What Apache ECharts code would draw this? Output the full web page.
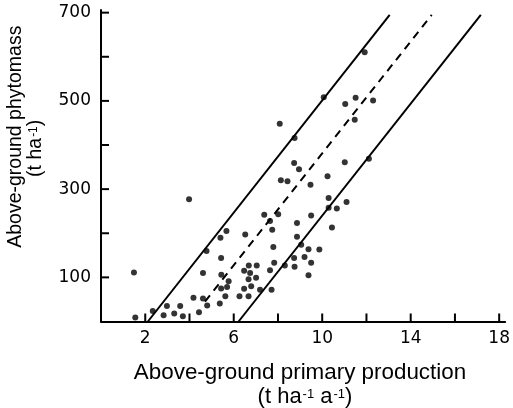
<!DOCTYPE html>
<html>
<head>
<meta charset="utf-8">
<script src="https://cdn.jsdelivr.net/npm/echarts@6/dist/echarts.min.js"></script>
<style>html,body{margin:0;padding:0;background:#fff}#c{width:513px;height:408px}</style>
</head>
<body>
<div id="c"></div>
<script>
// Above-ground primary production (t ha-1 a-1)
const productionX = [1.49,1.55,2.34,2.83,2.98,3.31,3.58,3.70,3.98,4.18,4.43,4.61,4.80,4.61,4.77,5.37,5.43,5.40,5.67,5.44,5.62,5.43,5.70,5.77,6.26,6.47,6.67,6.47,6.52,6.68,6.74,6.67,7.01,7.04,6.79,7.19,7.38,7.64,7.74,7.79,7.83,7.64,7.71,8.01,8.08,8.13,8.43,8.31,8.73,8.75,8.75,8.73,8.95,8.86,8.86,9.05,9.20,9.38,9.50,9.38,9.47,9.50,9.87,10.07,10.24,10.29,10.29,10.66,10.44,11.04,11.02,11.10,11.51,11.47,11.92,12.30,12.11];
// Above-ground phytomass (t ha-1)
const phytomassY = [111,9,24,14,35,18,35,12,277,54,21,52,36,110,160,41,144,190,205,106,57,75,78,91,57,74,57,115,197,127,110,96,99,127,80,72,242,228,208,169,133,116,72,243,448,320,318,127,144,124,416,359,345,223,192,174,146,164,133,105,310,240,163,508,329,280,258,256,213,493,361,271,507,457,610,501,369];

// Envelope lines and central (dashed) line: [x0, x1], [y0, y1]
const upperLineX = [2.12, 13.05];
const upperLineY = [0, 695];
const meanLineX = [4.70, 14.95];
const meanLineY = [45, 695];
const lowerLineX = [6.22, 17.17];
const lowerLineY = [0, 695];

const xTickValues = [2,4,6,8,10,12,14,16,18];
const xLabelValues = [2,6,10,14,18];
const yTickValues = [100,200,300,400,500,600,700];
const yLabelValues = [100,300,500,700];

const points = productionX.map((x, i) => [x, phytomassY[i]]);
const pair = (xs, ys) => xs.map((x, i) => [x, ys[i]]);

const chart = echarts.init(document.getElementById('c'), null, {renderer: 'canvas'});
const tickFont = 'DejaVu Sans';
const titleFont = '"Liberation Sans", Arial, sans-serif';
const TICK_LEN = 8;
const TICK_W = 2;

chart.setOption({
  animation: false,
  backgroundColor: '#fff',
  grid: {left: 101, right: 6, top: 10, bottom: 86.5},
  xAxis: {
    type: 'value', min: 0, max: 18.27,
    splitLine: {show: false},
    axisLine: {show: true, onZero: false, lineStyle: {color: '#000', width: 2}},
    axisTick: {show: false},
    axisLabel: {customValues: xLabelValues, color: '#000', fontFamily: tickFont, fontSize: 17, margin: 9}
  },
  yAxis: {
    type: 'value', min: 0, max: 706,
    splitLine: {show: false},
    axisLine: {show: true, onZero: false, lineStyle: {color: '#000', width: 2}},
    axisTick: {show: false},
    axisLabel: {customValues: yLabelValues, color: '#000', fontFamily: tickFont, fontSize: 17, margin: 10}
  },
  series: [
    {type: 'line', data: pair(upperLineX, upperLineY), symbol: 'none', silent: true,
     lineStyle: {color: '#000', width: 2}},
    {type: 'line', data: pair(meanLineX, meanLineY), symbol: 'none', silent: true,
     lineStyle: {color: '#000', width: 2, type: [8, 6]}},
    {type: 'line', data: pair(lowerLineX, lowerLineY), symbol: 'none', silent: true,
     lineStyle: {color: '#000', width: 2}},
    {type: 'scatter', data: points, symbol: 'circle', symbolSize: 6, silent: true,
     itemStyle: {color: '#000'}},
    // inward tick marks on the x axis
    {type: 'custom', silent: true, data: xTickValues.map(v => [v, 0]),
     renderItem: (params, api) => {
       const p = api.coord([api.value(0), api.value(1)]);
       return {type: 'rect', shape: {x: p[0] - TICK_W / 2, y: p[1] - TICK_LEN, width: TICK_W, height: TICK_LEN},
               style: {fill: '#000'}};
     }},
    // inward tick marks on the y axis
    {type: 'custom', silent: true, data: yTickValues.map(v => [0, v]),
     renderItem: (params, api) => {
       const p = api.coord([api.value(0), api.value(1)]);
       return {type: 'rect', shape: {x: p[0], y: p[1] - TICK_W / 2, width: TICK_LEN, height: TICK_W},
               style: {fill: '#000'}};
     }}
  ],
  graphic: [
    {type: 'text', x: 300, y: 373, silent: true,
     style: {text: 'Above-ground primary production', font: '22.4px ' + titleFont, fill: '#000', align: 'center', verticalAlign: 'middle'}},
    {type: 'text', x: 305, y: 397, silent: true,
     style: {text: '(t ha{s|-1} a{s|-1})', font: '22px ' + titleFont, fill: '#000', align: 'center', verticalAlign: 'middle',
       rich: {s: {fontSize: 13, fontFamily: titleFont, fill: '#000', verticalAlign: 'top', padding: [2, 0, 0, 1]}}}},
    {type: 'text', x: 15.5, y: 136.7, rotation: Math.PI / 2, silent: true,
     style: {text: 'Above-ground phytomass', font: '19.5px ' + titleFont, fill: '#000', align: 'center', verticalAlign: 'middle'}},
    {type: 'text', x: 36, y: 148.3, rotation: Math.PI / 2, silent: true,
     style: {text: '(t ha{s|-1})', font: '19.5px ' + titleFont, fill: '#000', align: 'center', verticalAlign: 'middle',
       rich: {s: {fontSize: 12, fontFamily: titleFont, fill: '#000', verticalAlign: 'top', padding: [2, 0, 0, 1]}}}}
  ]
});
</script>
</body>
</html>
